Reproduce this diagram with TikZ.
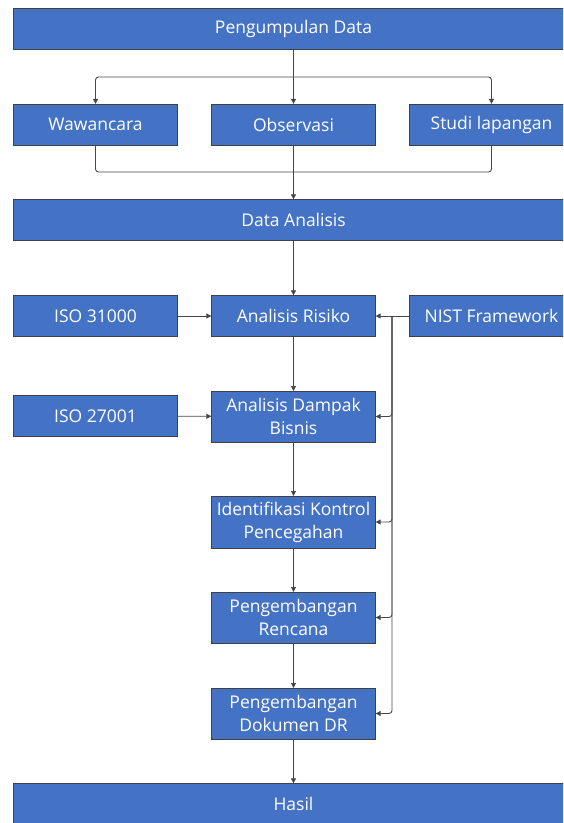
\documentclass[tikz,border=0pt]{standalone}
\usepackage{fontspec}
\setmainfont{Open Sans}
\usepackage{tikz}
\usetikzlibrary{arrows.meta}
\definecolor{boxblue}{RGB}{68,114,196}
\definecolor{linegray}{RGB}{70,70,70}

\begin{document}
\begin{tikzpicture}[x=1pt, y=-1pt,
  box/.style={draw=black!75, line width=0.7pt, fill=boxblue, text=white, minimum width=165pt-\pgflinewidth, minimum height=42pt-\pgflinewidth, inner sep=1pt, outer sep=0pt, align=center, font=\fontsize{17.5}{23}\selectfont},
  widebox/.style={box, minimum width=561pt},
  arr/.style={draw=linegray, line width=0.9pt, -{Triangle[length=5pt,width=5pt]}},
  ln/.style={draw=linegray, line width=0.9pt}]
\useasboundingbox (0,0) rectangle (563,823);
\clip (0,0) rectangle (563,823);

\node[widebox] (pd) at (293.5,29) {Pengumpulan Data};
\node[box] (waw) at (95.5,124.5) {Wawancara};
\node[box] (obs) at (293.5,124.5) {Observasi};
\node[box] (stu) at (491.5,124.5) {Studi lapangan};
\node[widebox] (da) at (293.5,220) {Data Analisis};

\node[box] (iso1) at (95.5,316) {ISO 31000};
\node[box] (ar) at (293.5,316) {Analisis Risiko};
\node[box] (nist) at (491.5,316) {NIST Framework};
\node[box] (iso2) at (95.5,416) {ISO 27001};
\node[box, minimum height=51pt] (adb) at (293.5,416.5) {Analisis Dampak\\Bisnis};
\node[box, minimum height=52pt] (ikp) at (293.5,522) {Identifikasi Kontrol\\Pencegahan};
\node[box, minimum height=51pt] (pr) at (293.5,617.5) {Pengembangan\\Rencana};
\node[box, minimum height=51pt] (pdr) at (293.5,713.5) {Pengembangan\\Dokumen DR};
\node[widebox] (hs) at (293.5,804) {Hasil};

\coordinate (split) at (293.5,77);
\coordinate (merge) at (293.5,172);
\coordinate (bus) at (392,316);

% pengumpulan data ke tiga metode
\draw[ln] (pd.south) -- (split);
\draw[arr, rounded corners=3pt] (split) -| (waw.north);
\draw[arr] (split) -- (obs.north);
\draw[arr, rounded corners=3pt] (split) -| (stu.north);

% gabung ke data analisis
\draw[ln, rounded corners=3pt] (waw.south) |- (merge);
\draw[ln, rounded corners=3pt] (stu.south) |- (merge);
\draw[ln] (obs.south) -- (merge);
\draw[arr] (merge) -- (da.north);

\draw[arr] (da.south) -- (ar.north);
\draw[arr] (iso1) -- (ar);
\draw[arr] (iso2) -- (adb);
\draw[arr] (nist) -- (ar);

% NIST ke semua tahap
\draw[arr, rounded corners=3pt] (bus) |- (adb.east);
\draw[arr, rounded corners=3pt] (bus) |- (ikp.east);
\draw[arr, rounded corners=3pt] (bus) |- (pr.east);
\draw[arr, rounded corners=3pt] (bus) |- (pdr.east);

\draw[arr] (ar) -- (adb);
\draw[arr] (adb) -- (ikp);
\draw[arr] (ikp) -- (pr);
\draw[arr] (pr) -- (pdr);
\draw[arr] (pdr) -- (hs);
\end{tikzpicture}
\end{document}
